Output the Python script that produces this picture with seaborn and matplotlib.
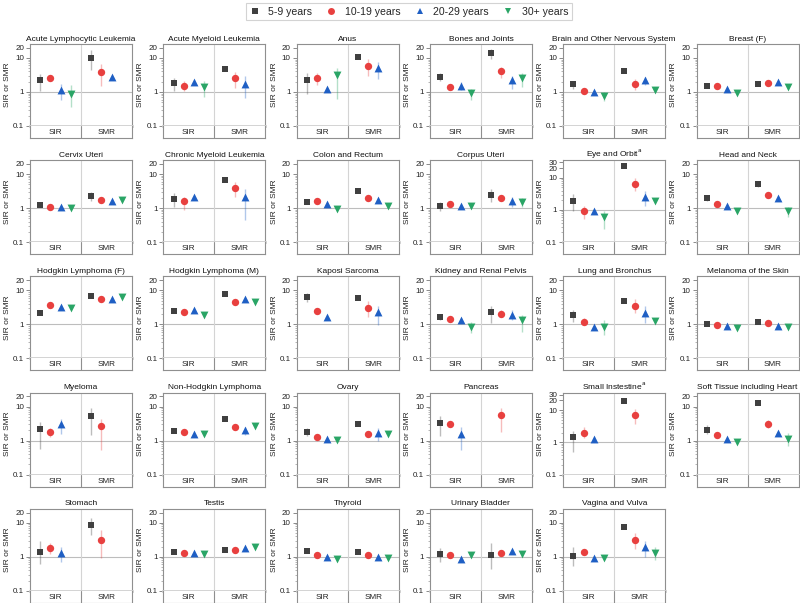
import numpy as np
import pandas as pd
import matplotlib
matplotlib.use("Agg")
import matplotlib.pyplot as plt
import seaborn as sns
from matplotlib.lines import Line2D
from matplotlib.ticker import FixedLocator, NullFormatter

sns.set_theme(style="white")
plt.rcParams['font.family'] = ['Liberation Sans', 'DejaVu Sans']

cancers = [
    "Acute Lymphocytic Leukemia", "Acute Myeloid Leukemia", "Anus", "Bones and Joints",
    "Brain and Other Nervous System", "Breast (F)", "Cervix Uteri", "Chronic Myeloid Leukemia",
    "Colon and Rectum", "Corpus Uteri", r"Eye and Orbit$^{\mathrm{a}}$", "Head and Neck",
    "Hodgkin Lymphoma (F)", "Hodgkin Lymphoma (M)", "Kaposi Sarcoma", "Kidney and Renal Pelvis",
    "Lung and Bronchus", "Melanoma of the Skin", "Myeloma", "Non-Hodgkin Lymphoma",
    "Ovary", "Pancreas", r"Small Instestine$^{\mathrm{a}}$", "Soft Tissue including Heart",
    "Stomach", "Testis", "Thyroid", "Urinary Bladder", "Vagina and Vulva",
]
tall_panels = [r"Eye and Orbit$^{\mathrm{a}}$", r"Small Instestine$^{\mathrm{a}}$"]
ages = ["5-9 years", "10-19 years", "20-29 years", "30+ years"]
measures = ["SIR", "SMR"]
N = None

# ---- SIR estimates and CIs (one entry per cancer) ----
sir_5_9 = [2.2, 1.84, 2.2, 2.75, 1.7, 1.5, 1.25, 1.85, 1.54, 1.17, 1.9, 2.0, 2.1, 2.45, 6.3,
           1.62, 1.9, 1.02, 2.2, 1.97, 1.8, 3.3, 1.43, 2.1, 1.4, 1.4, 1.5, 1.2, 1.05]
sir_5_9_lo = [1.07, 1.07, 0.85, 2.1, 1.25, N, N, 1.05, 1.3, 0.83, 0.93, 1.6, N, N, 4.5,
              1.3, 1.2, N, 0.55, N, 1.4, 1.34, 0.49, 1.6, 0.6, N, N, 0.7, 0.55]
sir_5_9_hi = [3.3, 2.6, 3.7, 3.5, 2.1, N, N, 2.7, 1.8, 1.47, 3.05, 2.4, N, N, 8.5,
              2.0, 2.6, N, 3.5, N, 2.3, 5.2, 2.3, 2.9, 2.9, N, N, 1.8, 1.9]

sir_10_19 = [2.6, 1.5, 2.5, 1.43, 1.07, 1.5, 1.05, 1.58, 1.65, 1.37, 0.93, 1.31, 3.6, 2.3, 2.4,
             1.41, 1.2, 0.98, 1.76, 1.76, 1.28, 3.1, 2.0, 1.44, 1.8, 1.3, 1.1, 1.1, 1.4]
sir_10_19_lo = [2.2, 1.1, 1.6, N, N, N, N, 0.9, N, N, 0.51, N, N, N, N,
                N, 0.95, N, 1.3, N, N, N, 1.4, N, 1.2, N, N, N, N]
sir_10_19_hi = [3.1, 2.1, 3.5, N, N, N, N, 2.2, N, N, 1.33, N, N, N, N,
                N, 1.5, N, 2.3, N, N, N, 2.9, N, 2.6, N, N, N, N]

sir_20_29 = [1.17, 2.0, 1.2, 1.5, 1.0, 1.25, 1.05, 2.17, 1.37, 1.17, 0.93, 1.12, 3.2, 2.7, 1.62,
             1.35, 0.85, 0.87, 3.1, 1.6, 1.12, 1.57, 1.24, 1.15, 1.3, 1.3, 1.0, 0.85, 0.9]
sir_20_29_lo = [0.6, N, N, 1.15, N, N, N, N, N, N, N, N, N, N, N,
                N, N, N, 1.57, N, N, 0.54, N, N, 0.7, N, N, N, N]
sir_20_29_hi = [1.7, N, N, 1.9, N, N, N, N, N, N, N, N, N, N, N,
                N, N, N, 4.4, N, N, 2.5, N, N, 2.0, N, N, N, N]

sir_30p = [0.9, 1.4, 3.2, 0.95, 0.77, 0.96, 0.98, N, 0.93, 1.12, 0.61, 0.83, 3.0, 1.9, N,
           0.85, 0.85, 0.78, N, 1.6, 1.07, N, N, 0.91, N, 1.2, 0.85, 1.1, 0.9]
sir_30p_lo = [0.35, 0.7, 0.64, 0.6, 0.55, N, N, N, N, N, 0.25, N, N, N, N,
              0.56, 0.48, N, N, N, N, N, N, N, N, N, N, N, N]
sir_30p_hi = [1.6, 2.1, 5.2, 1.25, 1.0, N, N, N, N, N, 0.93, N, N, N, N,
              1.2, 1.35, N, N, N, N, N, N, N, N, N, N, N, N]

# ---- SMR estimates and CIs ----
smr_5_9 = [10.2, 4.6, 11, 14.4, 4.1, 1.68, 2.27, 6.9, 3.1, 2.5, 23, 5.2, 6.8, 7.6, 6.0,
           2.3, 4.8, 1.15, 5.4, 4.4, 3.16, N, 19.4, 12.8, 8.5, 1.6, 1.35, 1.1, 7.5]
smr_5_9_lo = [4.3, N, N, 9.6, N, N, 1.65, N, N, 1.47, N, 4.2, N, N, N,
              1.07, N, N, 1.5, N, N, N, N, N, 4.5, N, N, 0.45, N]
smr_5_9_hi = [16.8, N, N, 18.8, N, N, 2.9, N, N, 3.7, N, 6.5, N, N, N,
              3.4, N, N, 9.1, N, N, N, N, N, 14, N, N, 2.5, N]

smr_10_19 = [3.9, 2.5, 5.8, 4.0, 1.68, 1.88, 1.69, 3.9, 1.98, 2.03, 6.5, 2.4, 5.75, 4.5, 3.0,
             2.0, 3.55, 1.07, 2.6, 2.47, 1.57, 5.6, 7.2, 3.1, 3.2, 1.55, 1.1, 1.3, 3.1]
smr_10_19_lo = [1.5, 1.3, 2.9, 2.6, 1.15, N, N, 2.07, N, N, 3.9, N, N, N, 1.7,
                1.6, 2.1, N, 0.54, N, N, 1.8, 3.7, 2.3, 0.9, N, N, N, 1.7]
smr_10_19_hi = [6.5, 3.9, 9.1, 5.4, 2.4, N, N, 5.8, N, N, 9.5, N, N, N, 4.8,
                2.6, 5.4, N, 4.4, N, N, 9.1, 10.7, 4.0, 6.0, N, N, N, 5.0]

smr_20_29 = [2.75, 1.76, 5.0, 2.25, 2.25, 2.0, 1.58, 2.2, 1.77, 1.6, 2.5, 1.98, 5.6, 5.6, 2.3,
             1.9, 2.2, 0.87, N, 2.0, 1.64, N, N, 1.68, N, 1.8, 1.0, 1.45, 1.9]
smr_20_29_lo = [N, 0.68, 2.4, 1.25, 1.57, N, N, 0.45, N, 1.05, 1.33, N, N, N, 0.95,
                1.3, 1.07, N, N, 1.5, 1.0, N, N, N, N, N, N, N, 1.0]
smr_20_29_hi = [N, 3.0, 7.6, 3.0, 2.8, N, N, 3.7, N, 2.1, 3.9, N, N, N, 3.4,
                2.6, 3.4, N, N, 2.5, 2.3, N, N, N, N, N, N, N, 3.0]

smr_30p = [N, N, N, 2.5, 1.15, 1.43, 1.73, N, 1.17, 1.47, 1.9, 0.83, 6.3, 4.7, N,
           1.35, 1.23, 0.85, N, 2.6, 1.6, N, N, 1.15, N, 1.9, 0.9, 1.2, 1.3]
smr_30p_lo = [N, N, N, 1.43, N, N, N, N, N, 1.1, N, 0.56, N, N, N,
              0.6, N, N, N, N, N, N, N, 0.68, N, N, N, N, 0.8]
smr_30p_hi = [N, N, N, 3.7, N, N, N, N, N, 2.0, N, 1.05, N, N, N,
              1.9, N, N, N, N, N, N, N, 1.7, N, N, N, N, 2.0]

series = {
    "SIR": [(sir_5_9, sir_5_9_lo, sir_5_9_hi), (sir_10_19, sir_10_19_lo, sir_10_19_hi),
            (sir_20_29, sir_20_29_lo, sir_20_29_hi), (sir_30p, sir_30p_lo, sir_30p_hi)],
    "SMR": [(smr_5_9, smr_5_9_lo, smr_5_9_hi), (smr_10_19, smr_10_19_lo, smr_10_19_hi),
            (smr_20_29, smr_20_29_lo, smr_20_29_hi), (smr_30p, smr_30p_lo, smr_30p_hi)],
}

rows = []
for m in measures:
    for age, (vals, los, his) in zip(ages, series[m]):
        for cancer, v, lo, hi in zip(cancers, vals, los, his):
            if v is None:
                continue
            rows.append(dict(cancer=cancer, measure=m, age=age, value=v,
                             lo=np.nan if lo is None else lo, hi=np.nan if hi is None else hi))
df = pd.DataFrame(rows)
df["pos"] = (df["measure"].map({m: i for i, m in enumerate(measures)}) * 5
             + df["age"].map({a: i for i, a in enumerate(ages)}) + 1)

palette = {"5-9 years": "#404040", "10-19 years": "#e8403f",
           "20-29 years": "#1f5fc4", "30+ years": "#2aa566"}
markers = {"5-9 years": "s", "10-19 years": "o", "20-29 years": "^", "30+ years": "v"}
sizes = {"5-9 years": 24, "10-19 years": 28, "20-29 years": 32, "30+ years": 32}

W, H = 800, 603
fig = plt.figure(figsize=(8, 6.03), dpi=100)
fig.patch.set_facecolor("white")

frame_col = "#8f8f8f"
for i, cancer in enumerate(cancers):
    r, c = divmod(i, 6)
    left = 30 + 133.3 * c
    top = 44 + 116.2 * r
    ax = fig.add_axes([left / W, 1 - (top + 82) / H, 102 / W, 82 / H])
    sax = fig.add_axes([left / W, 1 - (top + 94) / H, 102 / W, 12 / H])

    sub = df[df["cancer"] == cancer]
    ax.set_yscale("log")
    tall = cancer in tall_panels
    ax.set_ylim(0.1, 35 if tall else 25.7)
    ax.set_xlim(0, 10)
    ax.axhline(1, color="#bdbdbd", lw=0.8, zorder=0)
    ax.axvline(5, color="#d4d4d4", lw=0.8, zorder=0)
    for age in ages:
        sa = sub[(sub["age"] == age) & sub["lo"].notna()]
        if len(sa):
            ax.vlines(sa["pos"], sa["lo"], sa["hi"], color=palette[age], alpha=0.35,
                      lw=1.0, zorder=1)
    for age in ages:
        sa = sub[sub["age"] == age]
        if len(sa):
            sns.scatterplot(data=sa, x="pos", y="value", color=palette[age],
                            marker=markers[age], s=sizes[age], linewidth=0,
                            legend=False, ax=ax, zorder=3)
    ticks = [0.1, 1, 10, 20] + ([30] if tall else [])
    ax.yaxis.set_major_locator(FixedLocator(ticks))
    ax.set_yticklabels([("%g" % t) for t in ticks])
    ax.yaxis.set_minor_locator(FixedLocator([0.2, 0.3, 0.4, 0.5, 0.6, 0.7, 0.8, 0.9,
                                             2, 3, 4, 5, 6, 7, 8, 9]))
    ax.yaxis.set_minor_formatter(NullFormatter())
    ax.tick_params(axis="y", which="major", length=3, width=0.6, color="#777",
                   labelsize=5.8, pad=1.2, labelcolor="#222", left=True)
    ax.tick_params(axis="y", which="minor", length=1.6, width=0.5, color="#999", left=True)
    ax.set_xticks([])
    ax.set_xlabel("")
    ax.set_ylabel("SIR or SMR", fontsize=6.0, labelpad=1.5, color="#222")
    ax.set_title(cancer, fontsize=6.0, pad=2.5, color="#111")
    for s in ["top", "left", "right"]:
        ax.spines[s].set_color(frame_col)
        ax.spines[s].set_linewidth(0.8)
    ax.spines["bottom"].set_color("#cfcfcf")
    ax.spines["bottom"].set_linewidth(2.0)
    ax.spines["bottom"].set_zorder(5)

    sax.set_xlim(0, 10)
    sax.set_ylim(0, 1)
    sax.axvline(5, color=frame_col, lw=0.8)
    sax.set_xticks([])
    sax.set_yticks([])
    for j, m in enumerate(measures):
        sax.text(2.5 + 5 * j, 0.45, m, ha="center", va="center", fontsize=5.9, color="#222")
    sax.spines["top"].set_visible(False)
    for s in ["left", "right", "bottom"]:
        sax.spines[s].set_color(frame_col)
        sax.spines[s].set_linewidth(0.8)

handles = [Line2D([], [], linestyle="none", marker=markers[a], color=palette[a],
                  markersize=5, markeredgewidth=0) for a in ages]
leg = fig.legend(handles, ages, loc="upper center", bbox_to_anchor=(0.511, 1.004), ncol=4,
                 fontsize=7.6, frameon=True, fancybox=False, edgecolor="#c8c8c8",
                 handletextpad=0.8, columnspacing=1.3, borderpad=0.35, handlelength=1.0)
leg.get_frame().set_linewidth(0.8)

fig.savefig("out.png", dpi=100, facecolor="white")
